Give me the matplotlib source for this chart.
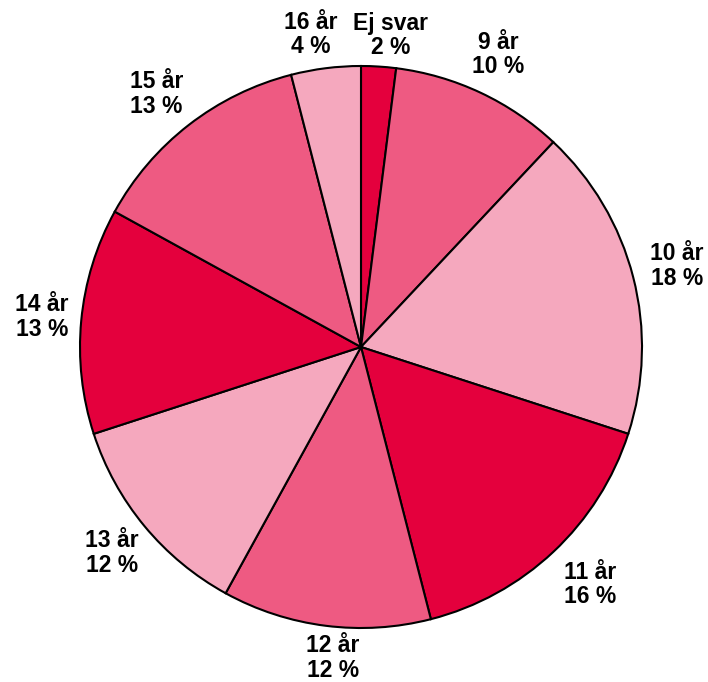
import numpy as np
import matplotlib.pyplot as plt

# Andelar per ålder (medurs från toppen)
labels = ["Ej svar", "9 år", "10 år", "11 år", "12 år", "13 år", "14 år", "15 år", "16 år"]
values = [2, 10, 18, 16, 12, 12, 13, 13, 4]

dark = "#E4003D"
mid = "#EE5A82"
light = "#F5A8BE"
colors = [dark, mid, light, dark, mid, light, dark, mid, light]

# etikettplacering (avstånd från mitten i radier, sidledes knuff)
label_dist = [1.11, 1.15, 1.16, 1.16, 1.115, 1.15, 1.14, 1.14, 1.12]
label_dx = [0.037, 0, 0, 0.02, 0.04, 0, 0, -0.03, -0.038]

fig = plt.figure(figsize=(7.08, 6.82), dpi=100)
ax = fig.add_axes([0, 0, 1, 1])

R = 281
cx, cy = 361, 347
wedges, _ = ax.pie(values, colors=colors, startangle=90, counterclock=False,
                   radius=1, wedgeprops=dict(edgecolor="black", linewidth=1.5))

for w, lab, v, d, dx in zip(wedges, labels, values, label_dist, label_dx):
    ang = np.deg2rad((w.theta1 + w.theta2) / 2)
    ax.text(d * np.cos(ang) + dx, d * np.sin(ang), f"{lab}\n{v} %",
            ha="center", va="center", fontsize=16.5, fontweight="bold",
            family="Liberation Sans", linespacing=1.08)

ax.set_xlim(-cx / R, (708 - cx) / R)
ax.set_ylim(-(682 - cy) / R, cy / R)
ax.axis("off")

fig.savefig("out.png", dpi=100)
